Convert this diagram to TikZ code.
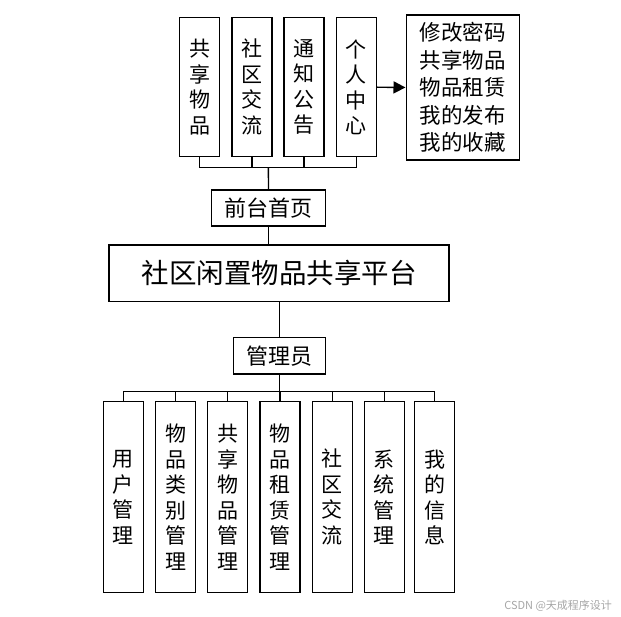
\documentclass[tikz,border=0pt]{standalone}
\usepackage{fontspec}
\usepackage{tikz}
\usetikzlibrary{arrows.meta,positioning}
\newfontfamily\cjk{Noto Sans CJK SC}

\begin{document}
\begin{tikzpicture}[x=1pt,y=-1pt,line width=1.4pt,
          coluna/.style={draw,minimum width=40pt,minimum height=139pt,
                     inner sep=0pt,align=center,
                     font=\cjk\fontsize{21}{25.5}\selectfont},
          baixa/.style={coluna,minimum height=191pt},
          caixa/.style={draw,inner sep=0pt,align=center,
                     font=\cjk\fontsize{22}{24}\selectfont}]
          \useasboundingbox (0,0) rectangle (621,617);
          % front end
          \node[coluna] (t1) at (199.5,87.2) {共\\享\\物\\品};
          \node[coluna] (t2) at (251.8,87.2) {社\\区\\交\\流};
          \node[coluna] (t3) at (304.1,87.2) {通\\知\\公\\告};
          \node[coluna] (t4) at (356.2,87.2) {个\\人\\中\\心};
          \node[draw,minimum width=113pt,minimum height=145pt,inner sep=0pt,
                font=\cjk\fontsize{21.5}{27.5}\selectfont,align=left]
                (pc) at (462.7,87.5) {修改密码\\共享物品\\物品租赁\\我的发布\\我的收藏};
          \node[caixa,minimum width=113.6pt,minimum height=36pt] (qt) at (268.5,208) {前台首页};
          \node[caixa,minimum width=340pt,minimum height=56.7pt,
                font=\cjk\fontsize{27.5}{30}\selectfont] (pt) at (279,273.3) {社区闲置物品共享平台};
          \node[caixa,minimum width=92.4pt,minimum height=36.7pt] (adm) at (279.5,355.7) {管理员};
          % back end
          \node[baixa] (b1) at (123.3,497.2) {用\\户\\管\\理};
          \node[baixa] (b2) at (175.7,497.2) {物\\品\\类\\别\\管\\理};
          \node[baixa] (b3) at (227.7,497.2) {共\\享\\物\\品\\管\\理};
          \node[baixa] (b4) at (279.8,497.2) {物\\品\\租\\赁\\管\\理};
          \node[baixa] (b5) at (332.2,497.2) {社\\区\\交\\流};
          \node[baixa] (b6) at (384.3,497.2) {系\\统\\管\\理};
          \node[baixa] (b7) at (434.7,497.2) {我\\的\\信\\息};
          \coordinate (topbus) at (268.4,167.7);
          \coordinate (botbus) at (279.5,391.7);
          \foreach \i in {1,...,4}
            \draw (t\i.south) |- (topbus);
          \draw (topbus) -- (qt.north);
          \draw (qt.south) -- (qt.south |- pt.north);
          \draw (pt.south -| adm.north) -- (adm.north);
          \draw (adm.south) -- (botbus);
          \foreach \i in {1,...,7}
            \draw (botbus) -| (b\i.north);
          \draw[-{Triangle[length=12pt,width=12pt]}] (t4.east) -- (pc.west);
          \node[font=\cjk\fontsize{11}{13}\selectfont,text=black!35,anchor=east]
                (wm) at (616,605.7) {CSDN @天成程序设计};
        \end{tikzpicture}
\end{document}
